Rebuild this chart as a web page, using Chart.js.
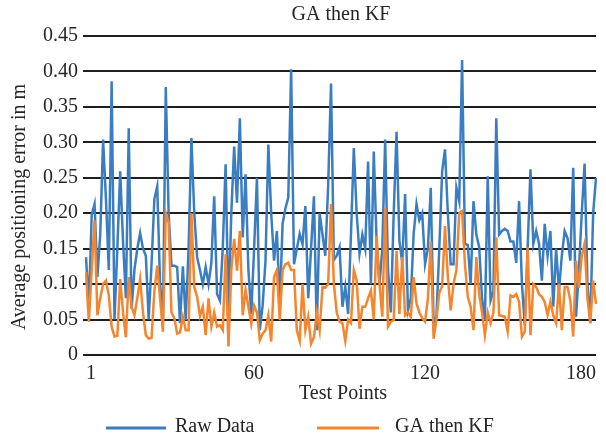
<!DOCTYPE html>
<html>
<head>
<meta charset="utf-8">
<script src="https://cdn.jsdelivr.net/npm/chart.js@4.4.1/dist/chart.umd.min.js"></script>
<style>
    html, body { margin: 0; padding: 0; background: #fff; }
    #wrap { width: 606px; height: 440px; }
</style>
</head>
<body>
<div id="wrap"><canvas id="errChart" width="606" height="440"></canvas></div>
<script>
// Values (test points 1..180)
const rawData = [
    0.138, 0.068, 0.198, 0.213, 0.110, 0.170, 0.304, 0.220, 0.120, 0.386,
    0.050, 0.150, 0.259, 0.160, 0.080, 0.320, 0.065, 0.120, 0.150, 0.172,
    0.150, 0.140, 0.050, 0.128, 0.220, 0.238, 0.100, 0.050, 0.378, 0.200,
    0.126, 0.126, 0.124, 0.045, 0.125, 0.049, 0.150, 0.306, 0.200, 0.138,
    0.120, 0.100, 0.124, 0.100, 0.130, 0.224, 0.086, 0.077, 0.150, 0.269,
    0.060, 0.200, 0.294, 0.215, 0.334, 0.166, 0.255, 0.120, 0.058, 0.150,
    0.250, 0.035, 0.070, 0.133, 0.297, 0.200, 0.133, 0.175, 0.068, 0.185,
    0.207, 0.222, 0.403, 0.128, 0.150, 0.171, 0.156, 0.210, 0.080, 0.150,
    0.224, 0.035, 0.200, 0.170, 0.140, 0.240, 0.383, 0.134, 0.140, 0.152,
    0.068, 0.096, 0.058, 0.170, 0.292, 0.200, 0.143, 0.170, 0.150, 0.273,
    0.100, 0.287, 0.160, 0.100, 0.150, 0.304, 0.120, 0.060, 0.200, 0.315,
    0.161, 0.130, 0.227, 0.063, 0.080, 0.171, 0.213, 0.190, 0.200, 0.128,
    0.150, 0.236, 0.045, 0.054, 0.150, 0.259, 0.290, 0.200, 0.128, 0.128,
    0.236, 0.217, 0.416, 0.157, 0.155, 0.100, 0.217, 0.170, 0.152, 0.080,
    0.049, 0.252, 0.077, 0.090, 0.334, 0.170, 0.175, 0.178, 0.175, 0.160,
    0.160, 0.130, 0.217, 0.100, 0.042, 0.150, 0.262, 0.157, 0.175, 0.157,
    0.105, 0.185, 0.140, 0.175, 0.068, 0.150, 0.091, 0.140, 0.175, 0.165,
    0.133, 0.264, 0.054, 0.120, 0.200, 0.270, 0.100, 0.045, 0.200, 0.250
];
const gaKfData = [
    0.117, 0.047, 0.120, 0.190, 0.056, 0.080, 0.100, 0.105, 0.084, 0.040,
    0.026, 0.027, 0.107, 0.060, 0.025, 0.110, 0.068, 0.056, 0.080, 0.107,
    0.060, 0.028, 0.023, 0.024, 0.090, 0.126, 0.080, 0.033, 0.200, 0.187,
    0.060, 0.052, 0.030, 0.032, 0.054, 0.035, 0.035, 0.200, 0.096, 0.082,
    0.055, 0.068, 0.028, 0.080, 0.040, 0.060, 0.040, 0.042, 0.035, 0.142,
    0.012, 0.120, 0.164, 0.119, 0.175, 0.056, 0.092, 0.068, 0.044, 0.070,
    0.060, 0.021, 0.030, 0.035, 0.056, 0.019, 0.110, 0.120, 0.049, 0.120,
    0.128, 0.130, 0.120, 0.120, 0.035, 0.020, 0.100, 0.035, 0.054, 0.016,
    0.025, 0.060, 0.035, 0.096, 0.095, 0.100, 0.213, 0.100, 0.060, 0.047,
    0.045, 0.020, 0.050, 0.045, 0.120, 0.105, 0.037, 0.068, 0.068, 0.080,
    0.091, 0.050, 0.168, 0.100, 0.054, 0.208, 0.040, 0.047, 0.049, 0.147,
    0.058, 0.138, 0.056, 0.060, 0.054, 0.110, 0.073, 0.060, 0.052, 0.047,
    0.080, 0.160, 0.023, 0.050, 0.088, 0.097, 0.182, 0.110, 0.063, 0.100,
    0.120, 0.200, 0.203, 0.128, 0.082, 0.068, 0.035, 0.138, 0.086, 0.060,
    0.028, 0.060, 0.045, 0.060, 0.166, 0.056, 0.055, 0.054, 0.033, 0.084,
    0.082, 0.086, 0.075, 0.026, 0.033, 0.152, 0.028, 0.100, 0.096, 0.086,
    0.082, 0.075, 0.056, 0.075, 0.056, 0.045, 0.100, 0.035, 0.096, 0.096,
    0.077, 0.026, 0.133, 0.095, 0.140, 0.157, 0.080, 0.045, 0.105, 0.072
];
const testPoints = rawData.map((v, i) => i + 1);
const xTickLabels = [1, 60, 120, 180];
const yTickValues = [0, 0.05, 0.10, 0.15, 0.20, 0.25, 0.30, 0.35, 0.40, 0.45];

const blue = '#3B7DC1';
const orange = '#F5852E';
const textColor = '#262626';
const serif = '"Liberation Serif", "Times New Roman", serif';

// Title, axis titles and legend drawn at fixed spots
const textPlugin = {
    id: 'textPlugin',
    afterDraw(chart) {
        const ctx = chart.ctx;
        const area = chart.chartArea;
        const midX = (area.left + area.right) / 2;
        ctx.save();
        ctx.fillStyle = textColor;
        ctx.font = '20px ' + serif;
        ctx.textAlign = 'center';
        ctx.textBaseline = 'middle';
        ctx.fillText('GA then KF', midX, 15);
        ctx.fillText('Test Points', midX + 2, 394);

        // legend
        ctx.lineWidth = 3;
        ctx.strokeStyle = blue;
        ctx.beginPath(); ctx.moveTo(106, 428); ctx.lineTo(166, 428); ctx.stroke();
        ctx.strokeStyle = orange;
        ctx.beginPath(); ctx.moveTo(317, 428); ctx.lineTo(379, 428); ctx.stroke();
        ctx.textAlign = 'left';
        ctx.fillText('Raw Data', 175, 427);
        ctx.fillText('GA then KF', 395, 427);

        // y axis title
        ctx.translate(20, 207);
        ctx.rotate(-Math.PI / 2);
        ctx.textAlign = 'center';
        ctx.fillText('Average positioning error in m', 0, 0);
        ctx.restore();
    }
};

document.addEventListener('DOMContentLoaded', function () {
    const ctx = document.getElementById('errChart').getContext('2d');
    const errChart = new Chart(ctx, {
        type: 'line',
        data: {
            labels: testPoints,
            datasets: [{
                label: 'Raw Data',
                data: rawData,
                borderColor: blue,
                borderWidth: 2.5,
                pointRadius: 0,
                tension: 0,
                order: 2
            }, {
                label: 'GA then KF',
                data: gaKfData,
                borderColor: orange,
                borderWidth: 2.5,
                pointRadius: 0,
                tension: 0,
                order: 1
            }]
        },
        options: {
            responsive: false,
            animation: false,
            devicePixelRatio: 1,
            layout: { padding: { top: 36, right: 10, bottom: 0, left: 0 } },
            plugins: {
                legend: { display: false },
                title: { display: false },
                tooltip: { enabled: false }
            },
            scales: {
                x: {
                    grid: { display: false, drawTicks: false },
                    border: { display: false },
                    ticks: {
                        autoSkip: false,
                        maxRotation: 0,
                        align: 'inner',
                        padding: 7,
                        color: textColor,
                        font: { family: serif, size: 20 },
                        callback: function (value, index) {
                            const lab = testPoints[index];
                            return xTickLabels.includes(lab) ? String(lab) : null;
                        }
                    },
                    afterFit: function (scale) {
                        scale.height = 85;
                        scale.paddingLeft = 0;
                        scale.paddingRight = 0;
                    }
                },
                y: {
                    min: 0,
                    max: 0.45,
                    grid: { color: '#1e1e1e', lineWidth: 2, tickLength: 3 },
                    border: { display: false },
                    afterBuildTicks: function (scale) {
                        scale.ticks = yTickValues.map(v => ({ value: v }));
                    },
                    ticks: {
                        padding: 5,
                        color: textColor,
                        font: { family: serif, size: 20 },
                        callback: function (value) {
                            return value === 0 ? '0' : value.toFixed(2);
                        }
                    },
                    afterFit: function (scale) {
                        scale.width = 86;
                        scale.paddingTop = 0;
                        scale.paddingBottom = 0;
                    }
                }
            }
        },
        plugins: [textPlugin]
    });
});
</script>
</body>
</html>
